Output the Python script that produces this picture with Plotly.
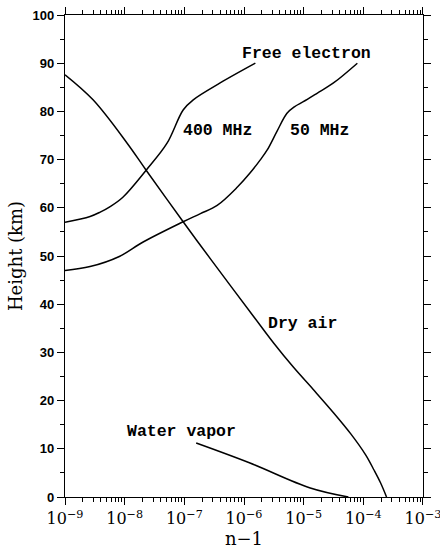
import plotly.graph_objects as go

# ---- data (n-1 vs height in km) ----
dry_air_n1 = [1.0e-9, 2.95e-9, 1.10e-8, 2.29e-8, 9.55e-8, 2.82e-7,
              1.48e-6, 3.16e-6, 6.76e-6, 1.45e-5, 3.16e-5, 6.17e-5, 1.10e-4, 1.51e-4, 1.95e-4, 2.45e-4]
dry_air_h = [87.6, 82.4, 73.4, 67.8, 57.1, 49.2,
             37.3, 31.9, 26.9, 22.3, 17.5, 13.1, 8.7, 5.6, 2.9, 0.0]

fe400_n1 = [1.0e-9, 2.63e-9, 3.89e-9, 5.62e-9, 9.33e-9, 2.29e-8, 5.13e-8, 9.55e-8,
            1.41e-7, 3.98e-7, 1.55e-6]
fe400_h = [57.0, 58.2, 59.1, 60.2, 62.2, 67.8, 73.4, 80.3, 82.4, 85.9, 90.0]

fe50_n1 = [1.0e-9, 2.63e-9, 8.13e-9, 2.04e-8, 9.55e-8, 1.86e-7, 3.55e-7, 7.76e-7,
           1.26e-6, 1.86e-6, 2.45e-6, 3.55e-6, 5.25e-6, 7.08e-6, 1.15e-5, 1.70e-5, 3.16e-5, 7.94e-5]
fe50_h = [47.0, 47.8, 49.9, 52.9, 57.1, 58.8, 60.5, 64.3,
          67.2, 69.9, 72.0, 75.8, 79.6, 81.0, 82.5, 83.8, 85.9, 90.0]

wv_n1 = [1.58e-7, 1.26e-6, 1.29e-5, 5.62e-5]
wv_h = [11.2, 7.05, 1.87, 0.0]

x_tickvals = [1e-9, 1e-8, 1e-7, 1e-6, 1e-5, 1e-4, 1e-3]
x_ticktext = ["10<sup>−9</sup>", "10<sup>−8</sup>", "10<sup>−7</sup>", "10<sup>−6</sup>",
              "10<sup>−5</sup>", "10<sup>−4</sup>", "10<sup>−3</sup>"]
x_minor = [k * 10.0 ** e for e in range(-9, -3) for k in range(2, 10)]
y_tickvals = list(range(0, 101, 10))
y_minor = list(range(5, 100, 10))

labels = [
    ("Free electron", -4.96, 92.1),
    ("400 MHz", -6.44, 76.1),
    ("50 MHz", -4.74, 76.1),
    ("Dry air", -5.02, 36.1),
    ("Water vapor", -7.05, 13.5),
]

fig = go.Figure()
line = dict(color="black", width=1.5, shape="spline", smoothing=1.0)
for xs, ys, nm in [(dry_air_n1, dry_air_h, "Dry air"), (fe400_n1, fe400_h, "400 MHz"),
                   (fe50_n1, fe50_h, "50 MHz"), (wv_n1, wv_h, "Water vapor")]:
    fig.add_trace(go.Scatter(x=xs, y=ys, mode="lines", line=line, name=nm,
                             showlegend=False, hoverinfo="skip"))

for txt, lx, ly in labels:
    fig.add_annotation(x=lx, y=ly, xref="x", yref="y", text=txt, showarrow=False,
                       font=dict(family="Liberation Mono", size=16.5, color="black", weight="bold"))

fig.update_xaxes(type="log", range=[-9.0003, -2.9997], tickvals=x_tickvals, ticktext=x_ticktext,
                 ticks="outside", ticklen=7, tickwidth=1.2, tickcolor="black",
                 ticklabeloverflow="allow",
                 showline=True, linecolor="black", linewidth=1.3, mirror="ticks",
                 showgrid=False, zeroline=False,
                 minor=dict(tickvals=x_minor, ticks="outside", ticklen=4, tickwidth=1,
                            tickcolor="black", showgrid=False),
                 tickfont=dict(family="DejaVu Serif", size=16, color="black"),
                 title=dict(text="n−1", font=dict(family="DejaVu Serif", size=18, color="black"),
                            standoff=4))
fig.update_yaxes(range=[0, 100], tickvals=y_tickvals,
                 ticks="outside", ticklen=7, tickwidth=1.2, tickcolor="black",
                 showline=True, linecolor="black", linewidth=1.3, mirror="ticks",
                 showgrid=False, zeroline=False,
                 minor=dict(tickvals=y_minor, ticks="outside", ticklen=4, tickwidth=1,
                            tickcolor="black", showgrid=False),
                 tickfont=dict(family="Liberation Sans", size=13, color="black", weight="bold"),
                 title=dict(text="Height (km)", font=dict(family="DejaVu Serif", size=18, color="black"),
                            standoff=5))
fig.update_layout(width=440, height=552, margin=dict(l=65, r=17, t=15, b=55, autoexpand=False),
                  plot_bgcolor="white", paper_bgcolor="white", showlegend=False)
fig.write_html("out.html")
